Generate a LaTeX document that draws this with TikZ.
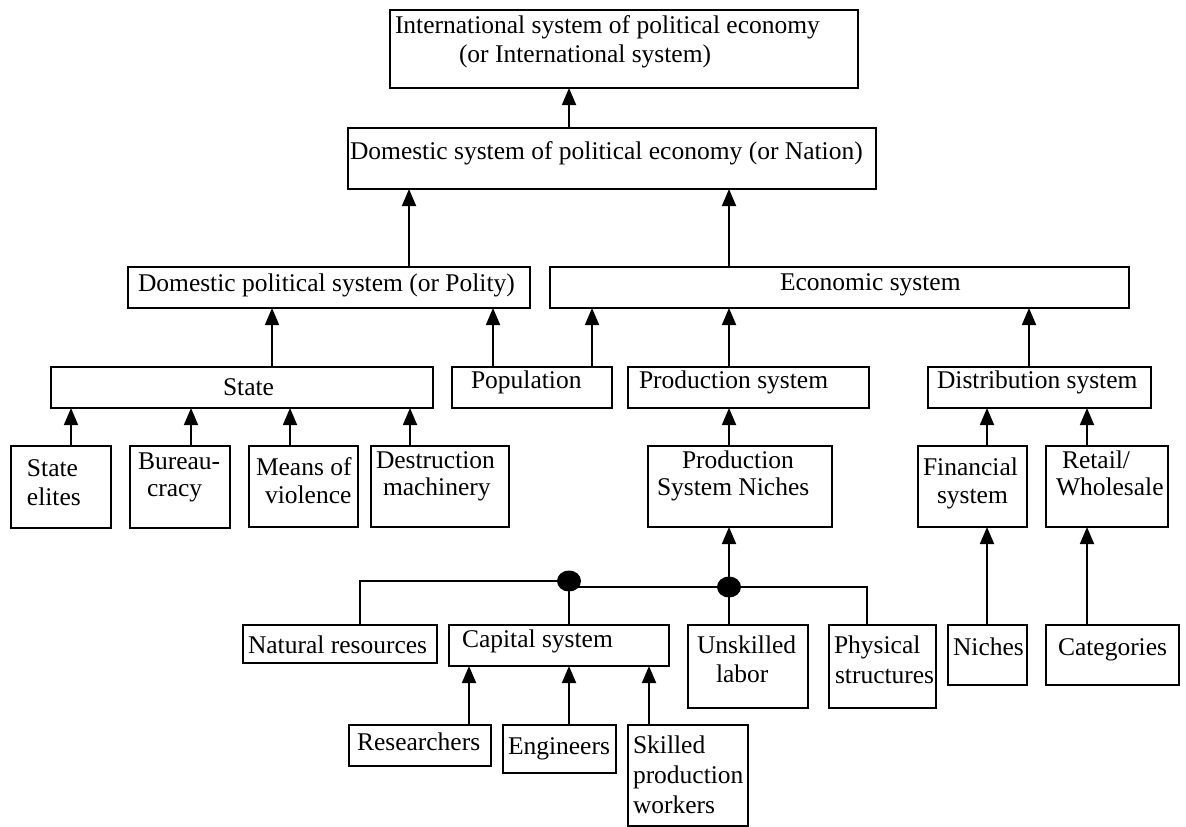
\documentclass[tikz,border=0pt]{standalone}
\usepackage{fontspec}
\setmainfont{Liberation Serif}
\usetikzlibrary{arrows.meta}
\tikzset{
  box/.style={draw, line width=1.8pt, rectangle, inner sep=0pt, outer sep=0pt},
  txt/.style={anchor=base west, inner sep=0pt, outer sep=0pt, font=\fontsize{25.5}{29}\selectfont},
  arr/.style={line width=1.8pt, -{Triangle[width=14pt,length=17pt]}},
  ln/.style={line width=1.8pt},
  dot/.style={ellipse, fill=black, inner sep=0pt, minimum width=24pt, minimum height=21pt}
}
\usetikzlibrary{shapes.geometric}
\newcommand\bx[5]{\node[box,minimum width={(#4-#2)*1pt},minimum height={(#5-#3)*1pt}] (#1) at ({(#2+#4)/2},{(#3+#5)/2}) {};}
\newcommand\tx[4]{\node[txt] (#1) at (#2,#3) {#4};}
\begin{document}
\begin{tikzpicture}[x=1pt,y=-1pt]
\useasboundingbox (0,0) rectangle (1186,827);
% boxes
\bx{top}{390}{10}{858}{88}
\bx{dom}{348}{128}{876}{189}
\bx{pol}{128}{267}{530}{308}
\bx{eco}{550}{267}{1129}{308}
\bx{state}{51}{367}{433}{408}
\bx{pop}{452}{367}{612}{408}
\bx{prod}{628}{367}{869}{408}
\bx{dist}{928}{367}{1151}{408}
\bx{elites}{11}{446}{111}{528}
\bx{bur}{130}{446}{230}{528}
\bx{means}{249}{446}{358}{527}
\bx{destr}{371}{446}{509}{527}
\bx{psn}{648}{446}{832}{527}
\bx{fin}{918}{446}{1027}{527}
\bx{ret}{1046}{446}{1168}{527}
\bx{nat}{243}{625}{437}{663}
\bx{cap}{449}{625}{669}{666}
\bx{unsk}{688}{625}{808}{708}
\bx{phys}{829}{625}{936}{708}
\bx{niches}{948}{625}{1027}{685}
\bx{cat}{1046}{625}{1179}{685}
\bx{res}{349}{725}{491}{766}
\bx{eng}{503}{725}{616}{773}
\bx{skl}{628}{725}{748}{826}
% texts
\tx{ttop1}{395}{33}{International system of political economy}
\tx{ttop2}{459}{62}{(or International system)}
\tx{tdom}{350}{159}{Domestic system of political economy (or Nation)}
\tx{tpol}{138}{291}{Domestic political system (or Polity)}
\tx{teco}{780}{290}{Economic system}
\tx{tstate}{223}{395}{State}
\tx{tpop}{471}{388}{Population}
\tx{tprod}{639}{388}{Production system}
\tx{tdist}{937}{388}{Distribution system}
\tx{tel1}{27}{476}{State}
\tx{tel2}{27}{505}{elites}
\tx{tbur1}{138}{469}{Bureau-}
\tx{tbur2}{147}{496}{cracy}
\tx{tme1}{256}{475}{Means of}
\tx{tme2}{265}{503}{violence}
\tx{tde1}{376}{468}{Destruction}
\tx{tde2}{383}{495}{machinery}
\tx{tpsn1}{682}{468}{Production}
\tx{tpsn2}{657}{495}{System Niches}
\tx{tfin1}{923}{475}{Financial}
\tx{tfin2}{937}{503}{system}
\tx{tret1}{1062}{468}{Retail/}
\tx{tret2}{1056}{495}{Wholesale}
\tx{tnat}{248}{653}{Natural resources}
\tx{tcap}{462}{647}{Capital system}
\tx{tun1}{697}{653}{Unskilled}
\tx{tun2}{716}{682}{labor}
\tx{tph1}{834}{653}{Physical}
\tx{tph2}{835}{683}{structures}
\tx{tni}{953}{655}{Niches}
\tx{tcat}{1058}{655}{Categories}
\tx{tres}{357}{750}{Researchers}
\tx{teng}{508}{754}{Engineers}
\tx{tsk1}{633}{753}{Skilled}
\tx{tsk2}{633}{783}{production}
\tx{tsk3}{633}{813}{workers}
% junction dots
\node[dot] (j1) at (569,581) {};
\node[dot] (j2) at (729,587) {};
% connectors
\draw[arr] (569,0 |- dom.north) -- (569,0 |- top.south);
\draw[arr] (409,0 |- pol.north) -- (409,0 |- dom.south);
\draw[arr] (729,0 |- eco.north) -- (729,0 |- dom.south);
\draw[arr] (272,0 |- state.north) -- (272,0 |- pol.south);
\draw[arr] (493,0 |- pop.north) -- (493,0 |- pol.south);
\draw[arr] (592,0 |- pop.north) -- (592,0 |- eco.south);
\draw[arr] (729,0 |- prod.north) -- (729,0 |- eco.south);
\draw[arr] (1029,0 |- dist.north) -- (1029,0 |- eco.south);
\draw[arr] (71,0 |- elites.north) -- (71,0 |- state.south);
\draw[arr] (191,0 |- bur.north) -- (191,0 |- state.south);
\draw[arr] (290,0 |- means.north) -- (290,0 |- state.south);
\draw[arr] (410,0 |- destr.north) -- (410,0 |- state.south);
\draw[arr] (729,0 |- psn.north) -- (729,0 |- prod.south);
\draw[arr] (987,0 |- fin.north) -- (987,0 |- dist.south);
\draw[arr] (1087,0 |- ret.north) -- (1087,0 |- dist.south);
\draw[arr] (987,0 |- niches.north) -- (987,0 |- fin.south);
\draw[arr] (1087,0 |- cat.north) -- (1087,0 |- ret.south);
\draw[arr] (j2.center) -- (729,0 |- psn.south);
\draw[ln] (729,0 |- unsk.north) -- (j2.center);
\draw[ln] (j2.center) -- (867,587) -- (867,0 |- phys.north);
\draw[ln] (569,587) -- (j2.center);
\draw[ln] (360,0 |- nat.north) -- (360,581) -- (j1.center);
\draw[ln] (j1.center) -- (569,0 |- cap.north);
\draw[arr] (469,0 |- res.north) -- (469,0 |- cap.south);
\draw[arr] (569,0 |- eng.north) -- (569,0 |- cap.south);
\draw[arr] (649,0 |- skl.north) -- (649,0 |- cap.south);
\end{tikzpicture}
\end{document}
